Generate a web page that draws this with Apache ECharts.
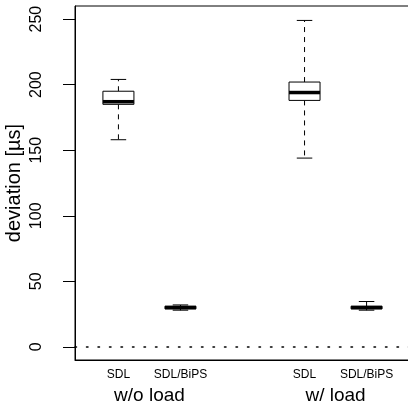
<!DOCTYPE html>
<html>
<head>
<meta charset="utf-8">
<script src="https://cdn.jsdelivr.net/npm/echarts@6/dist/echarts.min.js"></script>
<style>
  html, body { margin: 0; padding: 0; background: #fff; }
  #chart { width: 408px; height: 405px; }
</style>
</head>
<body>
<div id="chart"></div>
<script>
// box positions on the x scale (gap between the two load groups)
var positions = [1, 2, 4, 5];
var methods = ['SDL', 'SDL/BiPS', 'SDL', 'SDL/BiPS'];
var groupPositions = [1.5, 4.5];
var groups = ['w/o load', 'w/ load'];

// five-number summaries, deviation in µs
var mins    = [158, 28,   144, 28];
var q1s     = [185, 29,   188, 29];
var medians = [187, 30,   194, 30];
var q3s     = [195, 31,   202, 31];
var maxs    = [204, 32,   249, 34.6];

var yTicks = [0, 50, 100, 150, 200, 250];

var FONT = 'Liberation Sans';

var boxData = positions.map(function (p, i) {
    return [p, mins[i], q1s[i], medians[i], q3s[i], maxs[i]];
});

function labelAt(list, vals) {
    return function (v) {
        var i = list.indexOf(Math.round(v * 10) / 10);
        return i < 0 ? '' : vals[i];
    };
}

function renderBox(params, api) {
    var x = api.value(0);
    var pMin = api.coord([x, api.value(1)]);
    var pQ1 = api.coord([x, api.value(2)]);
    var pMed = api.coord([x, api.value(3)]);
    var pQ3 = api.coord([x, api.value(4)]);
    var pMax = api.coord([x, api.value(5)]);
    var half = api.size([0.5, 0])[0] / 2;
    var cap = half / 2;
    var cx = pMed[0];
    var dash = { stroke: '#000', lineWidth: 1, lineDash: [5, 5] };
    var solid = { stroke: '#000', lineWidth: 1 };
    return {
        type: 'group',
        children: [
            { type: 'line', shape: { x1: cx, y1: pQ1[1], x2: cx, y2: pMin[1] }, style: dash },
            { type: 'line', shape: { x1: cx, y1: pQ3[1], x2: cx, y2: pMax[1] }, style: dash },
            { type: 'line', shape: { x1: cx - cap, y1: pMin[1], x2: cx + cap, y2: pMin[1] }, style: solid },
            { type: 'line', shape: { x1: cx - cap, y1: pMax[1], x2: cx + cap, y2: pMax[1] }, style: solid },
            { type: 'rect', shape: { x: cx - half, y: pQ3[1], width: half * 2, height: pQ1[1] - pQ3[1] },
              style: { fill: '#fff', stroke: '#000', lineWidth: 1 } },
            { type: 'line', shape: { x1: cx - half, y1: pMed[1], x2: cx + half, y2: pMed[1] },
              style: { stroke: '#000', lineWidth: 3.5 } }
        ]
    };
}

var chart = echarts.init(document.getElementById('chart'), null, { renderer: 'canvas' });

chart.setOption({
    animation: false,
    backgroundColor: '#fff',
    textStyle: { fontFamily: FONT, color: '#000' },
    grid: {
        left: 75, top: 6, width: 335, height: 354,
        outerBoundsMode: 'none', containLabel: false,
        show: true, borderColor: '#000', borderWidth: 1, backgroundColor: 'transparent'
    },
    xAxis: [{
        type: 'value', min: 0.3, max: 5.7,
        splitLine: { show: false },
        axisLine: { show: true, onZero: false, lineStyle: { color: '#000' } },
        axisTick: { show: false },
        axisLabel: {
            customValues: positions,
            formatter: labelAt(positions, methods),
            fontSize: 12, color: '#000', margin: 9, fontFamily: FONT
        }
    }, {
        type: 'value', min: 0.3, max: 5.7, position: 'bottom',
        splitLine: { show: false },
        axisLine: { show: false },
        axisTick: { show: false },
        axisLabel: {
            customValues: groupPositions,
            formatter: labelAt(groupPositions, groups),
            fontSize: 19, color: '#000', margin: 26, fontFamily: FONT
        }
    }],
    yAxis: {
        type: 'value', min: -10, max: 260,
        name: 'deviation [µs]', nameLocation: 'middle', nameGap: 51,
        nameMoveOverlap: false,
        nameTextStyle: { fontSize: 20, color: '#000', fontFamily: FONT },
        splitLine: { show: false },
        axisLine: { show: true, lineStyle: { color: '#000' } },
        axisTick: { show: true, length: 12, customValues: yTicks, lineStyle: { color: '#000' } },
        axisLabel: {
            customValues: yTicks, rotate: 90, margin: 30,
            fontSize: 16, color: '#000', fontFamily: FONT
        }
    },
    series: [{
        type: 'custom',
        renderItem: renderBox,
        data: boxData,
        encode: { x: 0, y: [1, 2, 3, 4, 5] },
        z: 3,
        markLine: {
            silent: true, symbol: 'none', label: { show: false },
            lineStyle: { color: '#000', type: [1.5, 10], width: 1.5, cap: 'round' },
            data: [{ yAxis: 0 }]
        }
    }]
});
</script>
</body>
</html>
